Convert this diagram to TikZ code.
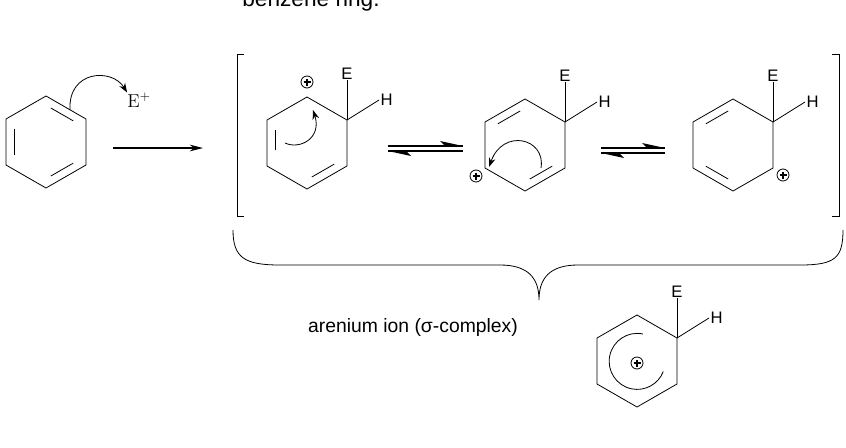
\documentclass[tikz,border=0pt]{standalone}
\usepackage{fontspec}
\setmainfont{Liberation Sans}
\newfontfamily\lmr{Latin Modern Roman}
\usetikzlibrary{calc,arrows.meta}
\newcommand{\hexa}[3]{%
 \coordinate (#1c) at (#2,#3);
 \coordinate (#11) at (#2,#3-46);
 \coordinate (#12) at (#2+40,#3-23);
 \coordinate (#13) at (#2+40,#3+23);
 \coordinate (#14) at (#2,#3+46);
 \coordinate (#15) at (#2-40,#3+23);
 \coordinate (#16) at (#2-40,#3-23);
 \draw[bond] (#11)--(#12)--(#13)--(#14)--(#15)--(#16)--cycle;}
\newcommand{\dbond}[3]{\draw[bond] ($(#1)!0.8!($(#2)!0.15!(#3)$)$) -- ($(#1)!0.8!($(#2)!0.85!(#3)$)$);}
\newcommand{\cplus}[1]{\draw[bond] (#1) circle[radius=6];
 \draw[bond,line width=0.9pt] ($(#1)+(-3.5,0)$)--($(#1)+(3.5,0)$) ($(#1)+(0,-3.5)$)--($(#1)+(0,3.5)$);}
\newcommand{\EH}[1]{\draw[bond] (#12) -- ++(0,-40) node[lbl,above=-1pt] {E};
 \draw[bond] (#12) -- ++(32,-20) node[lbl,right=0pt] {H};}
\begin{document}
\begin{tikzpicture}[x=0.75pt,y=-0.75pt,
 bond/.style={line width=0.6pt},
 lbl/.style={font=\fontsize{12.5}{14}\selectfont,inner sep=1pt},
 curv/.style={line width=0.6pt,-{Stealth[length=7pt,width=5pt]}},
 rxn/.style={line width=0.8pt,-{Stealth[length=10pt,width=5pt]}}]
\useasboundingbox (0,0) rectangle (846,447);
\node[font=\fontsize{17}{19}\selectfont] (title) at (311,1) {benzene ring.};
% benzene
\hexa{a}{46}{142}
\dbond{ac}{a1}{a2}\dbond{ac}{a5}{a6}\dbond{ac}{a3}{a4}
\node[font=\lmr\fontsize{14}{16}\selectfont,inner sep=0] (eplus) at (139,100) {E\textsuperscript{+}};
\draw[curv] ($(a1)!0.6!(a2)$) .. controls (68,70) and (112,68) .. (eplus.north west);
\draw[rxn] (113,148) -- (203,148);
% brackets
\draw[bond] (244,54) -- (237,54) -- (237,216) -- (244,216);
\draw[bond] (832,54) -- (839,54) -- (839,216) -- (832,216);
% hex 2
\hexa{b}{307}{143}\EH{b}
\dbond{bc}{b3}{b4}
\draw[bond] ($(bc)!0.8!($(b5)!0.3!(b6)$)$) -- ($(bc)!0.8!($(b5)!0.85!(b6)$)$);
\cplus{307,82}
\draw[curv] (285,143) .. controls (300,150) and (322,138) .. (313,110);
% equilibrium 1
\draw[bond,line width=0.8pt] (388,146) -- (463,146) (388,151) -- (463,151);
\fill (463,146) -- (440,141) -- (445,146) -- cycle;
\fill (388,151) -- (411,156) -- (406,151) -- cycle;
% hex 3
\hexa{c}{525}{145}\EH{c}
\dbond{cc}{c6}{c1}\dbond{cc}{c3}{c4}
\cplus{476,176}
\draw[curv] (541,168) .. controls (546,138) and (503,128) .. (489,167);
% equilibrium 2
\draw[bond,line width=0.8pt] (601,148) -- (665,148) (601,153) -- (665,153);
\fill (665,148) -- (642,143) -- (647,148) -- cycle;
\fill (601,153) -- (624,158) -- (619,153) -- cycle;
% hex 4
\hexa{d}{733}{145}\EH{d}
\dbond{dc}{d6}{d1}\dbond{dc}{d4}{d5}
\cplus{783,175}
% brace
\draw[bond] (233,230) .. controls (233,258) and (245,265) .. (280,265) -- (500,265)
  .. controls (528,265) and (539,278) .. (539,300)
  .. controls (539,278) and (550,265) .. (578,265) -- (800,265)
  .. controls (835,265) and (843,258) .. (843,230);
\node[font=\fontsize{14.5}{16}\selectfont,inner sep=1pt] (lab) at (413,327) {arenium ion (σ-complex)};
% hex 5
\hexa{e}{637}{361}\EH{e}
\cplus{637,363}
\draw[bond] (643,334) arc[start angle=-78,end angle=-339,radius=28];
\end{tikzpicture}
\end{document}
